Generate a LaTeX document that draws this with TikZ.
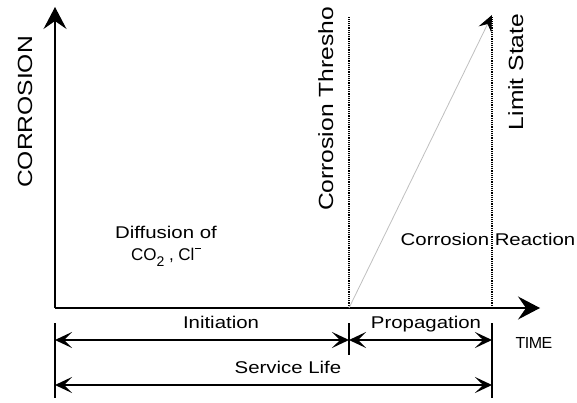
\documentclass[tikz,border=0pt]{standalone}
\usepackage{fontspec}
\setmainfont{Liberation Sans}[FakeStretch=1.2]
\newfontfamily\narrowfont{Liberation Sans}
\usetikzlibrary{arrows.meta}

\tikzset{
    axis/.style={line width=1.2pt, -{Stealth[length=22pt, width=23pt, inset=8pt]}},
    dim/.style={line width=1.4pt, {Stealth[length=17pt, width=16pt, inset=8pt]}-{Stealth[length=17pt, width=16pt, inset=8pt]}},
    tickline/.style={line width=1.3pt},
    guide/.style={dash pattern=on 1.2pt off 1pt, line width=1.2pt},
    growth/.style={gray!50, line width=0.8pt, -{Stealth[length=16pt, width=14pt, inset=6pt, black]}},
    vlabel/.style={rotate=90, anchor=base, inner sep=0pt, font=\fontsize{20.5}{24}\selectfont},
    hlabel/.style={anchor=base, inner sep=0pt}
}

\begin{document}
\begin{tikzpicture}[x=1pt, y=-1pt, every node/.style={font=\fontsize{17}{20}\selectfont}]
    \useasboundingbox (0,0) rectangle (577,403);

    % axes
    \coordinate (o) at (55,308);
    \coordinate (ytop) at (55,7);
    \coordinate (xend) at (540,308);
    \draw[axis] (o) -- (ytop);
    \draw[axis] (o) -- (xend);

    % threshold and limit state
    \coordinate (t0) at (349,308);
    \coordinate (ttop) at (349,17);
    \coordinate (l0) at (492,308);
    \coordinate (ltop) at (492,17);
    \coordinate (peak) at (492,15);
    \draw[guide] (t0) -- (ttop);
    \draw[guide] (l0) -- (ltop);
    \draw[growth] (t0) -- (peak);

    % ticks
    \coordinate (ta) at (55,323);
    \coordinate (tb) at (55,398);
    \coordinate (tc) at (349,323);
    \coordinate (td) at (349,355);
    \coordinate (te) at (492,323);
    \coordinate (tf) at (492,398);
    \draw[tickline] (ta) -- (tb);
    \draw[tickline] (tc) -- (td);
    \draw[tickline] (te) -- (tf);

    % spans
    \coordinate (ia) at (55,340);
    \coordinate (ib) at (349,340);
    \coordinate (pb) at (492,340);
    \coordinate (sa) at (55,385);
    \coordinate (sb) at (492,385);
    \draw[dim] (ia) -- (ib);
    \draw[dim] (ib) -- (pb);
    \draw[dim] (sa) -- (sb);

    % labels
    \node[vlabel] (ylab) at (32,112) {CORROSION};
    \node[vlabel] (thr) at (333,109) {Corrosion Thresho};
    \node[vlabel] (lim) at (523,72) {Limit State};
    \node[hlabel] (diff) at (166,238) {Diffusion of};
    \node[hlabel, font={\narrowfont\fontsize{17}{20}\selectfont}] (ions) at (166,260) {CO\raisebox{-0.38em}{\fontsize{14}{14}\selectfont 2} , Cl\kern0.02em\rule[0.66em]{0.36em}{0.07em}};
    \node[hlabel] (react) at (488,245) {Corrosion Reaction};
    \node[hlabel] (init) at (221,328) {Initiation};
    \node[hlabel] (prop) at (426,328) {Propagation};
    \node[hlabel] (serv) at (288,373) {Service Life};
    \node[hlabel, font={\narrowfont\fontsize{16}{18}\selectfont}] (time) at (534,348) {T\kern-0.03em I\kern-0.03em M\kern-0.03em E};
\end{tikzpicture}
\end{document}
